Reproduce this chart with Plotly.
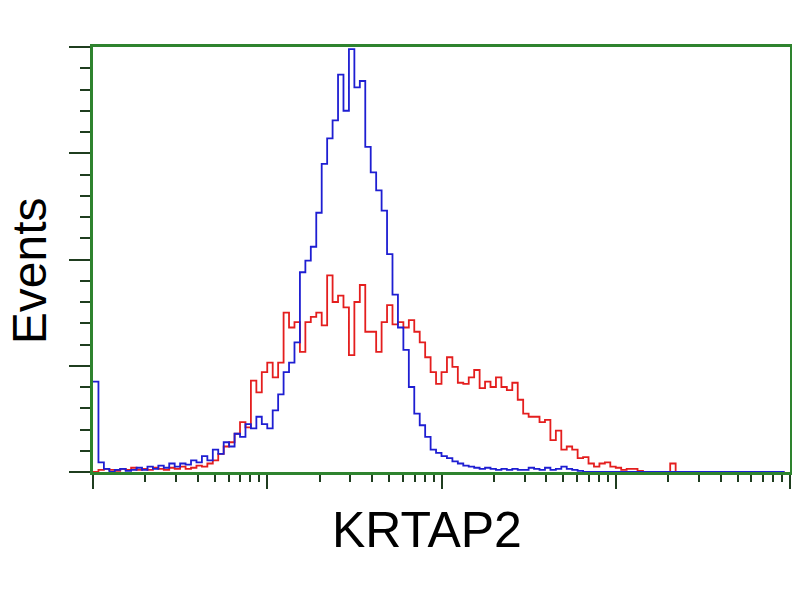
import plotly.graph_objects as go

# Channel scale: 128 channels across 4 log decades
n_channels = 128
channels = list(range(n_channels))
decades = 4

# Blue histogram (control), counts per channel
blue_counts = [
    85, 9, 3, 0, 2, 3, 1, 2, 4, 2,
    5, 3, 6, 4, 8, 5, 8, 7, 11, 9,
    15, 11, 21, 17, 28, 24, 36, 33, 45, 41,
    52, 45, 41, 58, 73, 94, 103, 122, 188, 199,
    212, 244, 290, 314, 331, 374, 340, 398, 362, 368,
    306, 282, 265, 246, 205, 167, 136, 115, 80, 55,
    44, 33, 21, 18, 15, 13, 10, 8, 6, 5,
    4, 3, 4, 3, 2, 3, 2, 3, 2, 2,
    4, 3, 2, 4, 2, 3, 5, 3, 2, 1,
    0, 0, 0, 0, 0, 0, 0, 0, 0, 0,
    0, 0, 0, 0, 0, 0, 0, 0, 0, 0,
    0, 0, 0, 0, 0, 0, 0, 0, 0, 0,
    0, 0, 0, 0, 0, 0, 0, 0,
]

# Red histogram (KRTAP2 stained), counts per channel
red_counts = [
    0, 2, 3, 2, 1, 3, 2, 4, 2, 3,
    2, 4, 3, 2, 4, 3, 5, 3, 4, 6,
    5, 8, 11, 17, 24, 28, 36, 47, 42, 86,
    75, 94, 103, 89, 103, 150, 136, 141, 113, 141,
    146, 150, 138, 185, 160, 166, 155, 110, 160, 176,
    132, 132, 113, 141, 157, 139, 141, 136, 143, 132,
    122, 108, 94, 83, 94, 108, 99, 84, 83, 89,
    96, 79, 85, 80, 89, 80, 77, 84, 68, 55,
    52, 52, 47, 49, 30, 39, 21, 24, 21, 13,
    14, 8, 5, 8, 9, 5, 4, 2, 3, 3,
    1, 0, 0, 0, 0, 0, 8, 0, 0, 0,
    0, 0, 0, 0, 0, 0, 0, 0, 0, 0,
    0, 0, 0, 0, 0, 0, 0, 0,
]

x_vals = [10 ** (c * decades / n_channels) for c in channels]

x_title = "KRTAP2"
y_title = "Events"

minor_x = [k * 10 ** d for d in range(decades) for k in range(2, 10)]

fig = go.Figure()
fig.add_trace(go.Scatter(x=x_vals, y=red_counts, mode="lines",
                         line=dict(color="#e41e1e", width=1.8, shape="hv"),
                         showlegend=False))
fig.add_trace(go.Scatter(x=x_vals, y=blue_counts, mode="lines",
                         line=dict(color="#1e1ed2", width=1.8, shape="hv"),
                         showlegend=False))

axis_green = "#2e832e"
tick_dark = "#1f3d1f"

# page body has an 8px default margin, so the figure is 792x592
fig.update_layout(
    width=792, height=592,
    margin=dict(l=85, r=7, t=39, b=128),
    paper_bgcolor="white", plot_bgcolor="white",
    font=dict(family="Liberation Sans, Arial, sans-serif", color="black"),
    xaxis=dict(
        type="log", range=[0, decades], dtick=1,
        showgrid=False, zeroline=False, showticklabels=False,
        showline=True, linecolor=axis_green, linewidth=3, mirror=True,
        ticks="outside", ticklen=14, tickwidth=2, tickcolor=tick_dark,
        minor=dict(tickvals=minor_x, ticks="outside", ticklen=7,
                   tickwidth=2, tickcolor=tick_dark, showgrid=False),
    ),
    yaxis=dict(
        range=[0, 400], dtick=100,
        showgrid=False, zeroline=False, showticklabels=False,
        showline=True, linecolor=axis_green, linewidth=3, mirror=True,
        ticks="outside", ticklen=21, tickwidth=2, tickcolor=tick_dark,
        minor=dict(dtick=20, ticks="outside", ticklen=10,
                   tickwidth=2, tickcolor=tick_dark, showgrid=False),
    ),
    annotations=[
        dict(text=x_title, xref="paper", yref="paper",
             x=(428 - 93) / 700, y=-0.136, xanchor="center", yanchor="middle",
             showarrow=False, font=dict(size=50, color="black")),
        dict(text=y_title, xref="paper", yref="paper",
             x=(30 - 93) / 700, y=0.473, xanchor="center", yanchor="middle",
             textangle=-90, showarrow=False, font=dict(size=48, color="black")),
    ],
)

fig.write_html("out.html")
